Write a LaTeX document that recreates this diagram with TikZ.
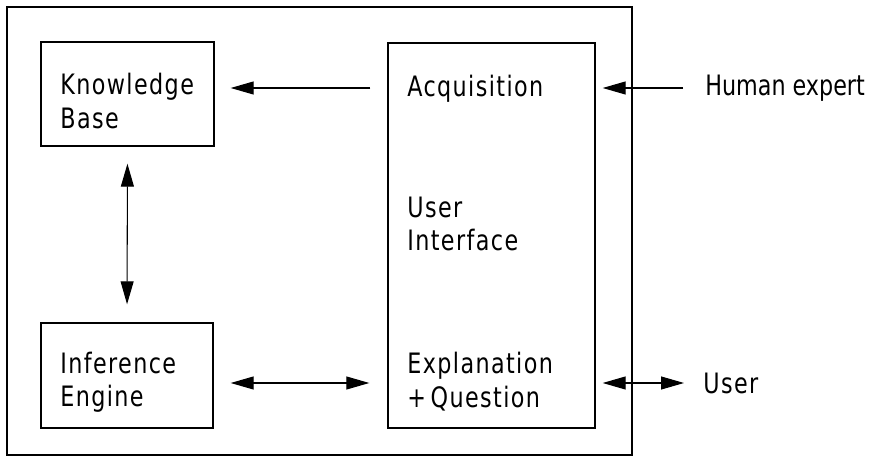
\documentclass[tikz,border=0pt]{standalone}
\usepackage{fontspec}
\setmainfont{DejaVu Sans Condensed}[FakeStretch=0.88, LetterSpace=5]
\newfontfamily\tightfont{DejaVu Sans Condensed}[FakeStretch=0.88]
\usepackage{tikz}
\usetikzlibrary{positioning}
\usetikzlibrary{arrows.meta}

\tikzset{
  frame/.style={draw, line width=1.1pt, inner sep=0pt},
  box/.style={draw, line width=0.8pt, inner sep=0pt},
  lbl/.style={align=left, inner sep=0pt, font=\fontsize{16}{19}\selectfont},
  flow/.style={-{Triangle[length=0.46cm,width=0.26cm]}, line width=0.6pt},
  both/.style={{Triangle[length=0.46cm,width=0.26cm]}-{Triangle[length=0.46cm,width=0.26cm]}, line width=0.6pt}
}

\begin{document}
\begin{tikzpicture}

  \useasboundingbox (0,0) rectangle (17.52,9.18);

  \node[frame, minimum width=12.5cm, minimum height=8.96cm] (sys) at (6.39,4.56) {};

  \node[box, minimum width=3.46cm, minimum height=2.08cm] (kb) at (2.55,7.30) {};
  \node[lbl, anchor=west] (kbtext) at (1.20,7.16) {Knowledge\\Base};

  \node[box, minimum width=3.44cm, minimum height=2.10cm] (ie) at (2.54,1.67) {};
  \node[lbl, anchor=west] (ietext) at (1.20,1.54) {Inference\\Engine};

  \node[box, minimum width=4.14cm, minimum height=7.70cm] (ui) at (9.83,4.47) {};
  \node[lbl, anchor=west] (acq) at (8.14,7.40) {Acquisition};
  \node[lbl, anchor=west] (uif) at (8.14,4.70) {User\\Interface};
  \node[lbl, anchor=west] (expl) at (8.14,1.55) {Explanation\\+\,Question};

  \node[lbl, anchor=west, font=\fontsize{16}{19}\tightfont] (hum) at (14.10,7.42) {Human expert};
  \node[lbl, anchor=west] (usr) at (14.06,1.52) {User};

  \draw[flow, shorten <=0.34cm, shorten >=0.32cm] (ui.west |- hum.west) -- (kb.east |- hum.west);
  \draw[both, shorten <=0.34cm, shorten >=0.36cm] (kb.south) -- (ie.north);
  \draw[both, shorten <=0.34cm, shorten >=0.36cm] (ie.east |- usr.west) -- (ui.west |- usr.west);

  \draw[flow, shorten <=0.44cm, shorten >=0.14cm] (hum.west) -- (ui.east |- hum.west);
  \draw[both, shorten <=0.14cm, shorten >=0.38cm] (ui.east |- usr.west) -- (usr.west);

\end{tikzpicture}
\end{document}
